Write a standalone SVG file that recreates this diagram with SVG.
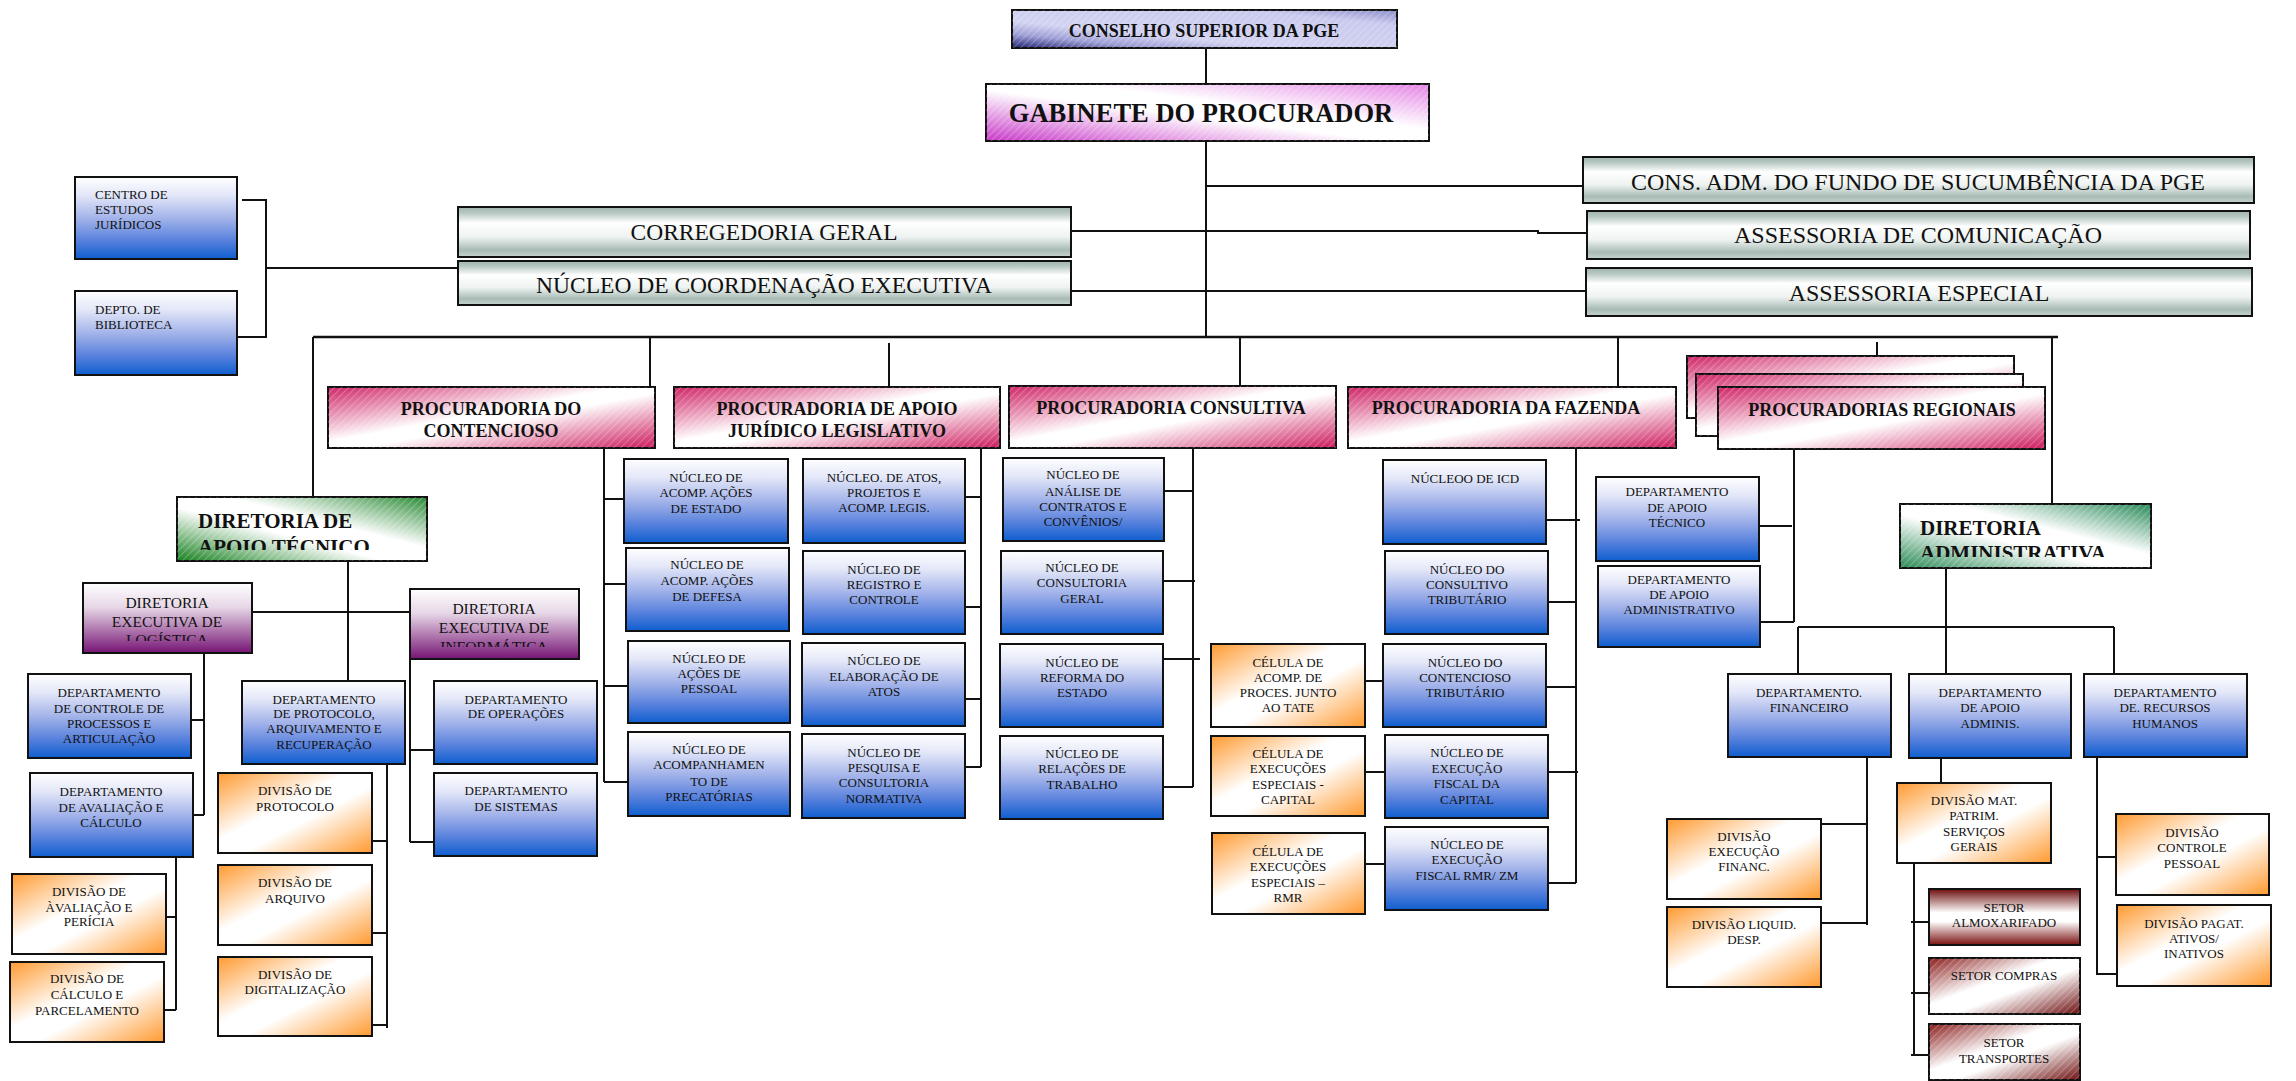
<svg xmlns="http://www.w3.org/2000/svg" width="2296" height="1081" viewBox="0 0 2296 1081">
<defs>
<linearGradient id="gBlue" x1="0" y1="0" x2="0" y2="1"><stop offset="0" stop-color="#ffffff"/><stop offset="0.22" stop-color="#e3e7f8"/><stop offset="0.5" stop-color="#a4b4ea"/><stop offset="0.78" stop-color="#5680dc"/><stop offset="1" stop-color="#0e5ecf"/></linearGradient>
<linearGradient id="gOrange" x1="0" y1="0" x2="1" y2="1"><stop offset="0" stop-color="#ff9a30"/><stop offset="0.42" stop-color="#ffffff"/><stop offset="0.58" stop-color="#ffffff"/><stop offset="1" stop-color="#ff9a30"/></linearGradient>
<linearGradient id="gPink" x1="0" y1="0" x2="1" y2="1"><stop offset="0" stop-color="#cf2466"/><stop offset="0.45" stop-color="#ffffff"/><stop offset="0.55" stop-color="#ffffff"/><stop offset="1" stop-color="#cc1a5c"/></linearGradient>
<linearGradient id="gMetal" x1="0" y1="0" x2="0" y2="1"><stop offset="0" stop-color="#9fb3ac"/><stop offset="0.12" stop-color="#b7c8c2"/><stop offset="0.32" stop-color="#ffffff"/><stop offset="0.6" stop-color="#eef3f1"/><stop offset="0.86" stop-color="#a8bbb5"/><stop offset="1" stop-color="#c6d3ce"/></linearGradient>
<linearGradient id="gConselho" x1="0" y1="1" x2="1" y2="0"><stop offset="0" stop-color="#1e2070"/><stop offset="0.18" stop-color="#9c9dd4"/><stop offset="0.35" stop-color="#d2d3f1"/><stop offset="0.8" stop-color="#c9caee"/><stop offset="1" stop-color="#8c8dc8"/></linearGradient>
<linearGradient id="gGab" x1="0" y1="1" x2="1" y2="0"><stop offset="0" stop-color="#c838c8"/><stop offset="0.45" stop-color="#ffffff"/><stop offset="0.6" stop-color="#ffffff"/><stop offset="1" stop-color="#e484e4"/></linearGradient>
<linearGradient id="gGreen" x1="0" y1="1" x2="1" y2="0"><stop offset="0" stop-color="#16801f"/><stop offset="0.42" stop-color="#ffffff"/><stop offset="0.6" stop-color="#ffffff"/><stop offset="1" stop-color="#2a8a35"/></linearGradient>
<linearGradient id="gTeal" x1="0" y1="1" x2="1" y2="0"><stop offset="0" stop-color="#2a8a55"/><stop offset="0.42" stop-color="#ffffff"/><stop offset="0.6" stop-color="#ffffff"/><stop offset="1" stop-color="#2a8a5a"/></linearGradient>
<linearGradient id="gPurple" x1="0" y1="0" x2="0" y2="1"><stop offset="0" stop-color="#ffffff"/><stop offset="0.35" stop-color="#e6d6e6"/><stop offset="1" stop-color="#761474"/></linearGradient>
<linearGradient id="gMaroonV" x1="0" y1="0" x2="0" y2="1"><stop offset="0" stop-color="#6e0e0e"/><stop offset="0.42" stop-color="#ffffff"/><stop offset="0.58" stop-color="#ffffff"/><stop offset="1" stop-color="#7a1010"/></linearGradient>
<linearGradient id="gMaroonD" x1="0" y1="0" x2="1" y2="1"><stop offset="0" stop-color="#8a1c1c"/><stop offset="0.42" stop-color="#ffffff"/><stop offset="0.58" stop-color="#ffffff"/><stop offset="1" stop-color="#6e0e0e"/></linearGradient>
<pattern id="hatch" patternUnits="userSpaceOnUse" width="5" height="5" patternTransform="rotate(45)"><line x1="0" y1="0" x2="0" y2="5" stroke="#ffffff" stroke-width="1.4" stroke-opacity="0.35"/></pattern>
<clipPath id="cApoio"><rect x="177" y="497" width="250" height="53"/></clipPath>
<clipPath id="cAdm"><rect x="1900" y="504" width="251" height="53"/></clipPath>
<clipPath id="cLog"><rect x="83" y="583" width="169" height="58"/></clipPath>
<clipPath id="cInf"><rect x="410" y="589" width="169" height="58"/></clipPath>
</defs>
<style>
.b{stroke:#111;stroke-width:2}
.blue{fill:url(#gBlue)}
.orange{fill:url(#gOrange)}
.pink{fill:url(#gPink)}
.metal{fill:url(#gMetal)}
.green{fill:url(#gGreen)}
.teal{fill:url(#gTeal)}
.purple{fill:url(#gPurple)}
.mv{fill:url(#gMaroonV)}
.md{fill:url(#gMaroonD)}
.h{fill:url(#hatch);stroke:none}
.c line,.c path{stroke:#111;stroke-width:2;fill:none}
text{font-family:"Liberation Serif","Times New Roman",serif;fill:#111}
.s{font-size:13px;text-anchor:middle}
.sl{font-size:13px}
.big{font-size:23.5px;text-anchor:middle}
.pb{font-size:18px;font-weight:bold;text-anchor:middle}
.db{font-size:21px;font-weight:bold}
.de{font-size:15.5px;text-anchor:middle}
</style>
<rect width="2296" height="1081" fill="#ffffff"/>
<g id="connectors" class="c">
<path d="M1206 48V84M1206 141V337M1206 186H1583M1071 231H1538V233H1587M1071 291H1586"/>
<path d="M313 337H2058" style="stroke-width:2.5"/>
<path d="M313 337V497M650 337V387M889 343V387M1240 337V386M1618 337V387M1877 342V356M2052 337V504"/>
<path d="M242 200H266V337H237M266 268H458"/>
<path d="M604 448V782M604 499H624M604 584H626M604 686H628M604 782H628"/>
<path d="M981 448V767M965 497H981M965 607H981M965 699H981M965 767H981"/>
<path d="M1193 448V787M1164 491H1193M1163 581H1195M1163 659H1200M1163 787H1193"/>
<path d="M1576 448V883M1546 520H1580M1548 602H1576M1546 687H1576M1548 772H1578M1548 883H1576"/>
<path d="M1365 681H1383M1365 772H1385M1365 864H1385"/>
<path d="M1794 449V622M1759 526H1792M1760 622H1794"/>
<path d="M1946 568V674M1798 627H2114M1798 627V674M2114 627V674"/>
<path d="M1867 757V925M1821 824H1867M1821 923H1867"/>
<path d="M1941 758V783M1914 863V1055M1911 922H1929M1911 993H1929M1911 1055H1929"/>
<path d="M2097 757V974H2117M2097 857H2116"/>
<path d="M348 561V681M252 612H410"/>
<path d="M204 653V815M191 720H204M193 815H204"/>
<path d="M410 659V842M410 750H434M410 842H434"/>
<path d="M176 857V1010M166 917H176M164 1010H176"/>
<path d="M387 764V1028M372 841H387M372 933H387M372 1025H387"/>
</g>

<g id="conselho"><rect x="1012" y="10" width="385" height="38" class="b" fill="url(#gConselho)"/><rect x="1012" y="10" width="385" height="38" class="h"/><text x="1204" y="37" style="font-size:18px;font-weight:bold;text-anchor:middle">CONSELHO SUPERIOR DA PGE</text></g>
<g id="gabinete"><rect x="986" y="84" width="443" height="57" class="b" fill="url(#gGab)"/><rect x="986" y="84" width="443" height="57" class="h"/><text x="1201" y="122" style="font-size:26.5px;font-weight:bold;text-anchor:middle">GABINETE DO PROCURADOR</text></g>
<g id="corregedoria"><rect x="458" y="207" width="613" height="50" class="b metal"/><text x="764" y="240" class="big">CORREGEDORIA GERAL</text></g>
<g id="nucleo-coordenacao"><rect x="458" y="261" width="613" height="44" class="b metal"/><text x="764" y="293" class="big">NÚCLEO DE COORDENAÇÃO EXECUTIVA</text></g>
<g id="cons-adm"><rect x="1583" y="157" width="671" height="46" class="b metal"/><text x="1918" y="190" class="big" style="font-size:24px">CONS. ADM. DO FUNDO DE SUCUMBÊNCIA DA PGE</text></g>
<g id="assessoria-comunicacao"><rect x="1587" y="211" width="663" height="48" class="b metal"/><text x="1918" y="243" class="big" style="font-size:24px">ASSESSORIA DE COMUNICAÇÃO</text></g>
<g id="assessoria-especial"><rect x="1586" y="268" width="666" height="48" class="b metal"/><text x="1919" y="301" class="big" style="font-size:24px">ASSESSORIA ESPECIAL</text></g>
<g id="centro-estudos"><rect x="75" y="177" width="162" height="82" class="b blue"/><text class="sl"><tspan x="95" y="199">CENTRO DE</tspan><tspan x="95" y="214">ESTUDOS</tspan><tspan x="95" y="229">JURÍDICOS</tspan></text></g>
<g id="biblioteca"><rect x="75" y="291" width="162" height="84" class="b blue"/><text class="sl"><tspan x="95" y="314">DEPTO. DE</tspan><tspan x="95" y="329">BIBLIOTECA</tspan></text></g>

<g id="proc-contencioso"><rect x="328" y="387" width="327" height="61" class="b pink"/><rect x="328" y="387" width="327" height="61" class="h"/><text class="pb"><tspan x="491" y="415">PROCURADORIA DO</tspan><tspan x="491" y="437">CONTENCIOSO</tspan></text></g>
<g id="proc-apoio-juridico"><rect x="674" y="387" width="326" height="61" class="b pink"/><rect x="674" y="387" width="326" height="61" class="h"/><text class="pb"><tspan x="837" y="415">PROCURADORIA DE APOIO</tspan><tspan x="837" y="437">JURÍDICO LEGISLATIVO</tspan></text></g>
<g id="proc-consultiva"><rect x="1009" y="386" width="327" height="62" class="b pink"/><rect x="1009" y="386" width="327" height="62" class="h"/><text x="1171" y="414" class="pb">PROCURADORIA CONSULTIVA</text></g>
<g id="proc-fazenda"><rect x="1348" y="387" width="328" height="61" class="b pink"/><rect x="1348" y="387" width="328" height="61" class="h"/><text x="1506" y="414" class="pb">PROCURADORIA DA FAZENDA</text></g>
<g id="proc-regionais"><rect x="1687" y="356" width="327" height="62" class="b pink"/><rect x="1687" y="356" width="327" height="62" class="h"/><rect x="1696" y="374" width="327" height="62" class="b pink"/><rect x="1696" y="374" width="327" height="62" class="h"/><rect x="1718" y="387" width="327" height="62" class="b pink"/><rect x="1718" y="387" width="327" height="62" class="h"/><text x="1882" y="416" class="pb">PROCURADORIAS REGIONAIS</text></g>

<g id="dir-apoio-tecnico"><rect x="177" y="497" width="250" height="64" class="b green"/><rect x="177" y="497" width="250" height="64" class="h"/><text class="db" clip-path="url(#cApoio)"><tspan x="198" y="528">DIRETORIA DE</tspan><tspan x="198" y="554">APOIO TÉCNICO</tspan></text></g>
<g id="dir-administrativa"><rect x="1900" y="504" width="251" height="64" class="b teal"/><rect x="1900" y="504" width="251" height="64" class="h"/><text class="db" clip-path="url(#cAdm)"><tspan x="1920" y="535">DIRETORIA</tspan><tspan x="1920" y="560">ADMINISTRATIVA</tspan></text></g>
<g id="dir-logistica"><rect x="83" y="583" width="169" height="70" class="b purple"/><text class="de" clip-path="url(#cLog)"><tspan x="167" y="608">DIRETORIA</tspan><tspan x="167" y="626.5">EXECUTIVA DE</tspan><tspan x="167" y="645">LOGÍSTICA</tspan></text></g>
<g id="dir-informatica"><rect x="410" y="589" width="169" height="70" class="b purple"/><text class="de" clip-path="url(#cInf)"><tspan x="494" y="614">DIRETORIA</tspan><tspan x="494" y="633">EXECUTIVA DE</tspan><tspan x="494" y="652">INFORMÁTICA</tspan></text></g>

<g id="dept-controle"><rect x="28" y="674" width="163" height="84" class="b blue"/><text class="s"><tspan x="109" y="697">DEPARTAMENTO</tspan><tspan x="109" y="713">DE CONTROLE DE</tspan><tspan x="109" y="728">PROCESSOS E</tspan><tspan x="109" y="743">ARTICULAÇÃO</tspan></text></g>
<g id="dept-avaliacao"><rect x="30" y="773" width="163" height="84" class="b blue"/><text class="s"><tspan x="111" y="796">DEPARTAMENTO</tspan><tspan x="111" y="812">DE AVALIAÇÃO E</tspan><tspan x="111" y="827">CÁLCULO</tspan></text></g>
<g id="div-avaliacao"><rect x="12" y="874" width="154" height="80" class="b orange"/><text class="s"><tspan x="89" y="896">DIVISÃO DE</tspan><tspan x="89" y="912">ÀVALIAÇÃO E</tspan><tspan x="89" y="926">PERÍCIA</tspan></text></g>
<g id="div-calculo"><rect x="10" y="962" width="154" height="80" class="b orange"/><text class="s"><tspan x="87" y="983">DIVISÃO DE</tspan><tspan x="87" y="999">CÁLCULO E</tspan><tspan x="87" y="1015">PARCELAMENTO</tspan></text></g>
<g id="dept-protocolo"><rect x="242" y="681" width="163" height="83" class="b blue"/><text class="s"><tspan x="324" y="704">DEPARTAMENTO</tspan><tspan x="324" y="718">DE PROTOCOLO,</tspan><tspan x="324" y="733">ARQUIVAMENTO E</tspan><tspan x="324" y="749">RECUPERAÇÃO</tspan></text></g>
<g id="div-protocolo"><rect x="218" y="773" width="154" height="80" class="b orange"/><text class="s"><tspan x="295" y="795">DIVISÃO DE</tspan><tspan x="295" y="811">PROTOCOLO</tspan></text></g>
<g id="div-arquivo"><rect x="218" y="865" width="154" height="80" class="b orange"/><text class="s"><tspan x="295" y="887">DIVISÃO DE</tspan><tspan x="295" y="903">ARQUIVO</tspan></text></g>
<g id="div-digitalizacao"><rect x="218" y="957" width="154" height="79" class="b orange"/><text class="s"><tspan x="295" y="979">DIVISÃO DE</tspan><tspan x="295" y="994">DIGITALIZAÇÃO</tspan></text></g>
<g id="dept-operacoes"><rect x="434" y="681" width="163" height="83" class="b blue"/><text class="s"><tspan x="516" y="704">DEPARTAMENTO</tspan><tspan x="516" y="718">DE OPERAÇÕES</tspan></text></g>
<g id="dept-sistemas"><rect x="434" y="773" width="163" height="83" class="b blue"/><text class="s"><tspan x="516" y="795">DEPARTAMENTO</tspan><tspan x="516" y="811">DE SISTEMAS</tspan></text></g>

<g id="nuc-acoes-estado"><rect x="624" y="459" width="164" height="84" class="b blue"/><text class="s"><tspan x="706" y="482">NÚCLEO DE</tspan><tspan x="706" y="497">ACOMP.  AÇÕES</tspan><tspan x="706" y="513">DE ESTADO</tspan></text></g>
<g id="nuc-acoes-defesa"><rect x="626" y="548" width="163" height="83" class="b blue"/><text class="s"><tspan x="707" y="569">NÚCLEO DE</tspan><tspan x="707" y="585">ACOMP.  AÇÕES</tspan><tspan x="707" y="601">DE DEFESA</tspan></text></g>
<g id="nuc-acoes-pessoal"><rect x="628" y="641" width="162" height="82" class="b blue"/><text class="s"><tspan x="709" y="663">NÚCLEO DE</tspan><tspan x="709" y="678">AÇÕES DE</tspan><tspan x="709" y="693">PESSOAL</tspan></text></g>
<g id="nuc-precatorias"><rect x="628" y="732" width="162" height="84" class="b blue"/><text class="s"><tspan x="709" y="754">NÚCLEO DE</tspan><tspan x="709" y="769">ACOMPANHAMEN</tspan><tspan x="709" y="786">TO DE</tspan><tspan x="709" y="801">PRECATÓRIAS</tspan></text></g>

<g id="nuc-atos"><rect x="803" y="459" width="162" height="84" class="b blue"/><text class="s"><tspan x="884" y="482">NÚCLEO. DE ATOS,</tspan><tspan x="884" y="497">PROJETOS E</tspan><tspan x="884" y="512">ACOMP. LEGIS.</tspan></text></g>
<g id="nuc-registro"><rect x="803" y="551" width="162" height="83" class="b blue"/><text class="s"><tspan x="884" y="574">NÚCLEO DE</tspan><tspan x="884" y="589">REGISTRO E</tspan><tspan x="884" y="604">CONTROLE</tspan></text></g>
<g id="nuc-elaboracao"><rect x="802" y="643" width="163" height="83" class="b blue"/><text class="s"><tspan x="884" y="665">NÚCLEO DE</tspan><tspan x="884" y="681">ELABORAÇÃO  DE</tspan><tspan x="884" y="696">ATOS</tspan></text></g>
<g id="nuc-pesquisa"><rect x="802" y="734" width="163" height="84" class="b blue"/><text class="s"><tspan x="884" y="757">NÚCLEO DE</tspan><tspan x="884" y="772">PESQUISA E</tspan><tspan x="884" y="787">CONSULTORIA</tspan><tspan x="884" y="803">NORMATIVA</tspan></text></g>

<g id="nuc-analise"><rect x="1003" y="458" width="161" height="83" class="b blue"/><text class="s"><tspan x="1083" y="479">NÚCLEO DE</tspan><tspan x="1083" y="496">ANÁLISE DE</tspan><tspan x="1083" y="511">CONTRATOS E</tspan><tspan x="1083" y="526">CONVÊNIOS/</tspan></text></g>
<g id="nuc-consultoria"><rect x="1001" y="551" width="162" height="83" class="b blue"/><text class="s"><tspan x="1082" y="572">NÚCLEO DE</tspan><tspan x="1082" y="587">CONSULTORIA</tspan><tspan x="1082" y="603">GERAL</tspan></text></g>
<g id="nuc-reforma"><rect x="1000" y="644" width="163" height="83" class="b blue"/><text class="s"><tspan x="1082" y="667">NÚCLEO DE</tspan><tspan x="1082" y="682">REFORMA DO</tspan><tspan x="1082" y="697">ESTADO</tspan></text></g>
<g id="nuc-relacoes"><rect x="1000" y="736" width="163" height="83" class="b blue"/><text class="s"><tspan x="1082" y="758">NÚCLEO DE</tspan><tspan x="1082" y="773">RELAÇÕES DE</tspan><tspan x="1082" y="789">TRABALHO</tspan></text></g>

<g id="nuc-icd"><rect x="1383" y="460" width="163" height="84" class="b blue"/><text x="1465" y="483" class="s">NÚCLEOO DE ICD</text></g>
<g id="nuc-consultivo-trib"><rect x="1385" y="551" width="163" height="83" class="b blue"/><text class="s"><tspan x="1467" y="574">NÚCLEO DO</tspan><tspan x="1467" y="589">CONSULTIVO</tspan><tspan x="1467" y="604">TRIBUTÁRIO</tspan></text></g>
<g id="nuc-contencioso-trib"><rect x="1383" y="644" width="163" height="83" class="b blue"/><text class="s"><tspan x="1465" y="667">NÚCLEO DO</tspan><tspan x="1465" y="682">CONTENCIOSO</tspan><tspan x="1465" y="697">TRIBUTÁRIO</tspan></text></g>
<g id="nuc-exec-capital"><rect x="1385" y="735" width="163" height="83" class="b blue"/><text class="s"><tspan x="1467" y="757">NÚCLEO  DE</tspan><tspan x="1467" y="773">EXECUÇÃO</tspan><tspan x="1467" y="788">FISCAL  DA</tspan><tspan x="1467" y="804">CAPITAL</tspan></text></g>
<g id="nuc-exec-rmr"><rect x="1385" y="827" width="163" height="83" class="b blue"/><text class="s"><tspan x="1467" y="849">NÚCLEO DE</tspan><tspan x="1467" y="864">EXECUÇÃO</tspan><tspan x="1467" y="880">FISCAL RMR/ ZM</tspan></text></g>
<g id="cel-tate"><rect x="1211" y="644" width="154" height="83" class="b orange"/><text class="s"><tspan x="1288" y="667">CÉLULA DE</tspan><tspan x="1288" y="682">ACOMP. DE</tspan><tspan x="1288" y="697">PROCES. JUNTO</tspan><tspan x="1288" y="712">AO TATE</tspan></text></g>
<g id="cel-capital"><rect x="1211" y="736" width="154" height="80" class="b orange"/><text class="s"><tspan x="1288" y="758">CÉLULA DE</tspan><tspan x="1288" y="773">EXECUÇÕES</tspan><tspan x="1288" y="789">ESPECIAIS -</tspan><tspan x="1288" y="804">CAPITAL</tspan></text></g>
<g id="cel-rmr"><rect x="1212" y="833" width="153" height="81" class="b orange"/><text class="s"><tspan x="1288" y="856">CÉLULA DE</tspan><tspan x="1288" y="871">EXECUÇÕES</tspan><tspan x="1288" y="887">ESPECIAIS –</tspan><tspan x="1288" y="902">RMR</tspan></text></g>

<g id="dept-apoio-tecnico-reg"><rect x="1596" y="477" width="163" height="84" class="b blue"/><text class="s"><tspan x="1677" y="496">DEPARTAMENTO</tspan><tspan x="1677" y="512">DE APOIO</tspan><tspan x="1677" y="527">TÉCNICO</tspan></text></g>
<g id="dept-apoio-adm-reg"><rect x="1598" y="566" width="162" height="81" class="b blue"/><text class="s"><tspan x="1679" y="584">DEPARTAMENTO</tspan><tspan x="1679" y="599">DE APOIO</tspan><tspan x="1679" y="614">ADMINISTRATIVO</tspan></text></g>

<g id="dept-financeiro"><rect x="1728" y="674" width="163" height="83" class="b blue"/><text class="s"><tspan x="1809" y="697">DEPARTAMENTO.</tspan><tspan x="1809" y="712">FINANCEIRO</tspan></text></g>
<g id="dept-apoio-adminis"><rect x="1909" y="674" width="162" height="84" class="b blue"/><text class="s"><tspan x="1990" y="697">DEPARTAMENTO</tspan><tspan x="1990" y="712">DE APOIO</tspan><tspan x="1990" y="728">ADMINIS.</tspan></text></g>
<g id="dept-rh"><rect x="2084" y="674" width="163" height="83" class="b blue"/><text class="s"><tspan x="2165" y="697">DEPARTAMENTO</tspan><tspan x="2165" y="712">DE. RECURSOS</tspan><tspan x="2165" y="728">HUMANOS</tspan></text></g>
<g id="div-exec-financ"><rect x="1667" y="819" width="154" height="80" class="b orange"/><text class="s"><tspan x="1744" y="841">DIVISÃO</tspan><tspan x="1744" y="856">EXECUÇÃO</tspan><tspan x="1744" y="871">FINANC.</tspan></text></g>
<g id="div-liquid"><rect x="1667" y="907" width="154" height="80" class="b orange"/><text class="s"><tspan x="1744" y="929">DIVISÃO LIQUID.</tspan><tspan x="1744" y="944">DESP.</tspan></text></g>
<g id="div-mat"><rect x="1897" y="783" width="154" height="80" class="b orange"/><text class="s"><tspan x="1974" y="805">DIVISÃO MAT.</tspan><tspan x="1974" y="820">PATRIM.</tspan><tspan x="1974" y="836">SERVIÇOS</tspan><tspan x="1974" y="851">GERAIS</tspan></text></g>
<g id="setor-almox"><rect x="1929" y="889" width="151" height="56" class="b mv"/><text class="s"><tspan x="2004" y="912">SETOR</tspan><tspan x="2004" y="927">ALMOXARIFADO</tspan></text></g>
<g id="setor-compras"><rect x="1929" y="958" width="151" height="56" class="b md"/><rect x="1929" y="958" width="151" height="56" class="h"/><text x="2004" y="980" class="s">SETOR COMPRAS</text></g>
<g id="setor-transportes"><rect x="1929" y="1024" width="151" height="56" class="b md"/><rect x="1929" y="1024" width="151" height="56" class="h"/><text class="s"><tspan x="2004" y="1047">SETOR</tspan><tspan x="2004" y="1063">TRANSPORTES</tspan></text></g>
<g id="div-controle-pessoal"><rect x="2116" y="814" width="153" height="81" class="b orange"/><text class="s"><tspan x="2192" y="837">DIVISÃO</tspan><tspan x="2192" y="852">CONTROLE</tspan><tspan x="2192" y="868">PESSOAL</tspan></text></g>
<g id="div-pagat"><rect x="2117" y="905" width="154" height="81" class="b orange"/><text class="s"><tspan x="2194" y="928">DIVISÃO PAGAT.</tspan><tspan x="2194" y="943">ATIVOS/</tspan><tspan x="2194" y="958">INATIVOS</tspan></text></g>
</svg>
